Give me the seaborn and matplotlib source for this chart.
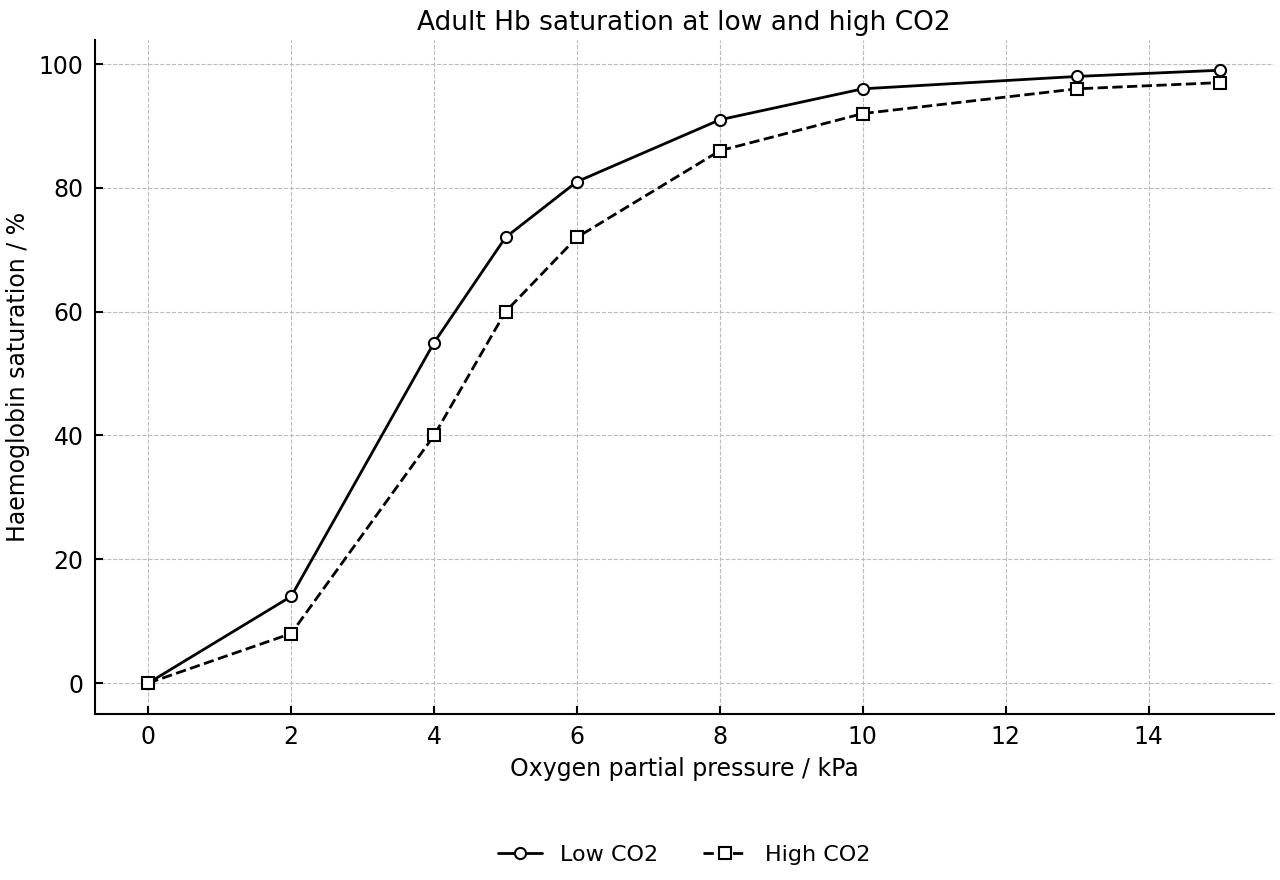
import matplotlib
matplotlib.use('Agg')
import matplotlib.pyplot as plt
import seaborn as sns
import pandas as pd

po2 = [0, 2, 4, 5, 6, 8, 10, 13, 15]
low_co2 = [0, 14, 55, 72, 81, 91, 96, 98, 99]
high_co2 = [0, 8, 40, 60, 72, 86, 92, 96, 97]

sns.set_style('ticks')
plt.rcParams['font.family'] = ['DejaVu Sans']
plt.rcParams.update({'text.color': 'black', 'axes.labelcolor': 'black',
                     'xtick.color': 'black', 'ytick.color': 'black',
                     'axes.edgecolor': 'black'})

fig, ax = plt.subplots(figsize=(12.8, 8.8), dpi=100)

sns.lineplot(x=po2, y=low_co2, ax=ax, color='black', lw=2, marker='o', markersize=8,
             markerfacecolor='white', markeredgecolor='black', markeredgewidth=1.5,
             label='Low CO2')
sns.lineplot(x=po2, y=high_co2, ax=ax, color='black', lw=2, linestyle='--', marker='s', markersize=8,
             markerfacecolor='white', markeredgecolor='black', markeredgewidth=1.5,
             label='High CO2')

ax.grid(True, linestyle='--', color='#bbbbbb', linewidth=0.8)
ax.set_axisbelow(True)
sns.despine(ax=ax)
ax.spines['left'].set_linewidth(1.5)
ax.spines['bottom'].set_linewidth(1.5)
ax.tick_params(direction='in', labelsize=17, width=1.5, length=6, pad=8)
ax.set_xticks([0, 2, 4, 6, 8, 10, 12, 14])
ax.set_yticks([0, 20, 40, 60, 80, 100])

ax.set_title('Adult Hb saturation at low and high CO2', fontsize=19, pad=7)
ax.set_xlabel('Oxygen partial pressure / kPa', fontsize=17, labelpad=6)
ax.set_ylabel('Haemoglobin saturation / %', fontsize=17, labelpad=6)

ax.legend(loc='upper center', bbox_to_anchor=(0.5, -0.165), ncol=2, frameon=False, fontsize=16,
          columnspacing=2.0)

fig.subplots_adjust(left=0.074, right=0.995, top=0.955, bottom=0.189)
fig.savefig('out.png', dpi=100)
